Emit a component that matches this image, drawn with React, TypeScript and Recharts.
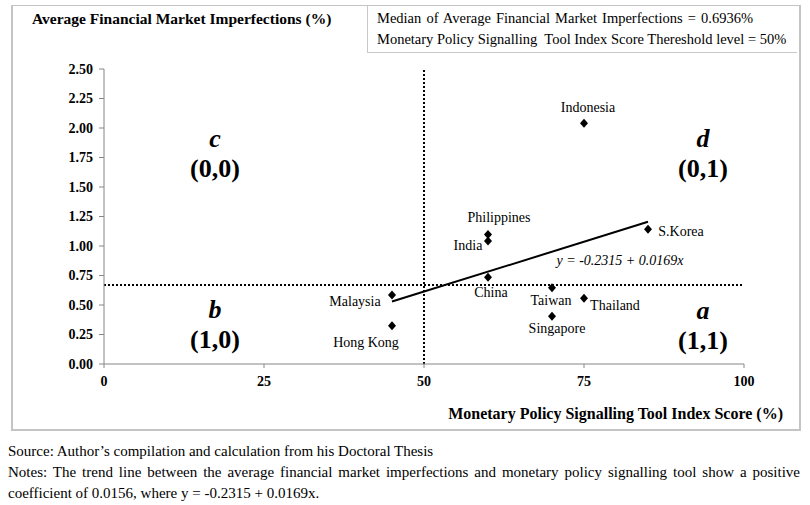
import React from 'react'
import {
    ScatterChart, Scatter, XAxis, YAxis, ReferenceLine, LabelList
} from 'recharts'

const COUNTRIES = ['Malaysia', 'Hong Kong', 'Indonesia', 'S.Korea', 'Philippines', 'India', 'China', 'Taiwan', 'Thailand', 'Singapore']
const SIGNAL_SCORE = [45, 45, 75, 85, 60, 60, 60, 70, 75, 70]
const IMPERFECTIONS = [0.585, 0.325, 2.04, 1.142, 1.097, 1.043, 0.735, 0.647, 0.557, 0.405]

const TREND_X = [45, 85]
const TREND_Y = [0.529, 1.205]

const X_TICKS = [0, 25, 50, 75, 100]
const Y_TICKS = [0, 0.25, 0.5, 0.75, 1, 1.25, 1.5, 1.75, 2, 2.25, 2.5]

const MEDIAN_LINE = 0.67
const THRESHOLD = 50

// label offsets (px) from each point, by country
const LABEL_OFFSET: Record<string, [number, number]> = {
    'Malaysia': [-37, 7],
    'Hong Kong': [-26, 17],
    'Indonesia': [4, -16],
    'S.Korea': [33, 2],
    'Philippines': [11, -17],
    'India': [-20, 5],
    'China': [3, 15],
    'Taiwan': [-1, 13],
    'Thailand': [31, 7],
    'Singapore': [5, 12],
}

const points = COUNTRIES.map((name, i) => ({ name, x: SIGNAL_SCORE[i], y: IMPERFECTIONS[i] }))
const trend = TREND_X.map((x, i) => ({ x, y: TREND_Y[i] }))

const FONT = '"Liberation Serif", "Times New Roman", serif'

const Diamond = (props: any) => {
    const { cx, cy } = props
    if (cx == null || cy == null) return null
    return <path d={`M${cx},${cy - 4.5} L${cx + 4},${cy} L${cx},${cy + 4.5} L${cx - 4},${cy} Z`} fill="#000" />
}

const CountryLabel = (props: any) => {
    const { x, y, width, height, value } = props
    const off = LABEL_OFFSET[value] || [0, -12]
    const cx = x + (width || 0) / 2
    const cy = y + (height || 0) / 2
    return (
        <text x={cx + off[0]} y={cy + off[1]} textAnchor="middle" dominantBaseline="central"
            fontFamily={FONT} fontSize={14} fill="#000">
            {value}
        </text>
    )
}

const quad = (left: number, top: number, letter: string, code: string) => (
    <div style={{ position: 'absolute', left: left - 50, top, width: 100, textAlign: 'center', fontFamily: FONT, fontWeight: 'bold', color: '#000' }}>
        <div style={{ fontStyle: 'italic', fontSize: 26, lineHeight: '30px' }}>{letter}</div>
        <div style={{ fontSize: 26, lineHeight: '30px' }}>{code}</div>
    </div>
)

const tickStyle = { fill: '#000', fontSize: 14, fontWeight: 'bold', fontFamily: FONT }

export default function App() {
    return (
        <div style={{ position: 'absolute', left: 0, top: 0, width: 810, height: 505, background: '#fff', fontFamily: FONT }}>
            <div style={{
                position: 'absolute', left: 11, top: 5, width: 786, height: 423,
                borderTop: '1px solid #c4c4c4', borderLeft: '2px solid #c4c4c4',
                borderRight: '2px solid #c4c4c4', borderBottom: '2px solid #c4c4c4'
            }} />
            <div style={{
                position: 'absolute', left: 367, top: 5, width: 430, height: 48,
                borderLeft: '1px solid #c8c8c8', borderBottom: '1px solid #c8c8c8',
                fontSize: 14.5, lineHeight: '21px', paddingLeft: 9, paddingTop: 3, boxSizing: 'border-box'
            }}>
                <div style={{ wordSpacing: 1.5 }}>Median of Average Financial Market Imperfections = 0.6936%</div>
                <div style={{ whiteSpace: 'pre' }}>Monetary Policy Signalling  Tool Index Score Thereshold level = 50%</div>
            </div>
            <div style={{ position: 'absolute', left: 32, top: 10, fontSize: 15.5, fontWeight: 'bold' }}>
                Average Financial Market Imperfections (%)
            </div>

            <ScatterChart width={810} height={505} margin={{ top: 69, right: 66, bottom: 111, left: 44 }}
                style={{ position: 'absolute', left: 0, top: 0 }}>
                <XAxis type="number" dataKey="x" domain={[0, 100]} ticks={X_TICKS} allowDataOverflow
                    height={30} stroke="#868686" tickSize={4} tickMargin={8} tick={tickStyle} />
                <YAxis type="number" dataKey="y" domain={[0, 2.5]} ticks={Y_TICKS} allowDataOverflow
                    width={60} stroke="#868686" tickSize={5} tickMargin={6}
                    tickFormatter={(v: number) => v.toFixed(2)} tick={tickStyle} />
                <ReferenceLine y={MEDIAN_LINE} stroke="#000" strokeWidth={2} strokeDasharray="2 2"
                    segment={[{ x: 1.3, y: MEDIAN_LINE }, { x: 100.5, y: MEDIAN_LINE }]} ifOverflow="visible" />
                <ReferenceLine x={THRESHOLD} stroke="#000" strokeWidth={2} strokeDasharray="2 2"
                    segment={[{ x: THRESHOLD, y: -0.06 }, { x: THRESHOLD, y: 2.5 }]} ifOverflow="visible" />
                <Scatter data={trend} line={{ stroke: '#000', strokeWidth: 2 }} shape={() => null}
                    isAnimationActive={false} />
                <Scatter data={points} shape={Diamond} isAnimationActive={false}>
                    <LabelList dataKey="name" content={CountryLabel} />
                </Scatter>
            </ScatterChart>

            {quad(215, 124, 'c', '(0,0)')}
            {quad(703, 124, 'd', '(0,1)')}
            {quad(215, 295, 'b', '(1,0)')}
            {quad(703, 296, 'a', '(1,1)')}

            <div style={{ position: 'absolute', left: 540, top: 253, width: 160, textAlign: 'center', fontSize: 14, fontStyle: 'italic' }}>
                y = -0.2315 + 0.0169x
            </div>
            <div style={{ position: 'absolute', right: 27, top: 405, fontSize: 16, fontWeight: 'bold' }}>
                Monetary Policy Signalling Tool Index Score (%)
            </div>

            <div style={{ position: 'absolute', left: 8, top: 441, width: 792, fontSize: 15, lineHeight: '21px' }}>
                <div>Source: Author’s compilation and calculation from his Doctoral Thesis</div>
                <div style={{ textAlign: 'justify', textAlignLast: 'justify' }}>Notes: The trend line between the average financial market imperfections and monetary policy signalling tool show a positive</div>
                <div>coefficient of 0.0156, where y = -0.2315 + 0.0169x.</div>
            </div>
        </div>
    )
}
